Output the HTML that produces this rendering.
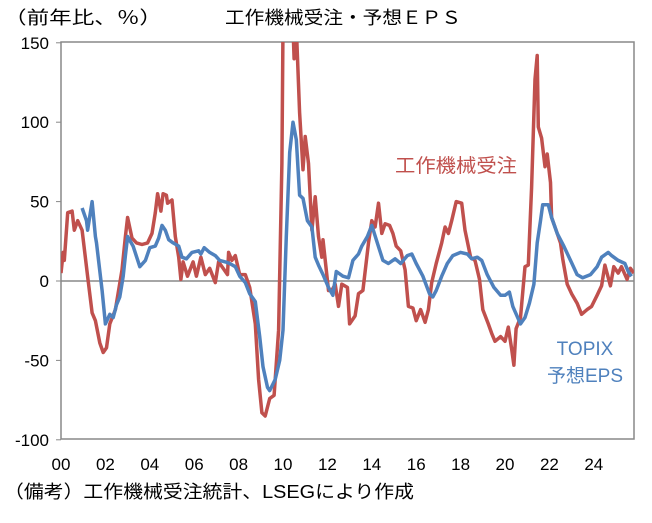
<!DOCTYPE html>
<html><head><meta charset="utf-8">
<style>
html,body{margin:0;padding:0;background:#fff;}
body{width:652px;height:518px;overflow:hidden;font-family:"Liberation Sans","Noto Sans CJK JP",sans-serif;}
svg text{font-family:"Liberation Sans","Noto Sans CJK JP",sans-serif;}
</style></head>
<body>
<svg id="chart" width="652" height="518" viewBox="0 0 652 518" xmlns="http://www.w3.org/2000/svg">
<defs><clipPath id="plotclip"><rect x="61" y="42" width="573" height="397"/></clipPath></defs>
<text x="225" y="24" font-size="18" textLength="236" lengthAdjust="spacingAndGlyphs" fill="#000">工作機械受注・予想ＥＰＳ</text>
<text x="4" y="24" font-size="18" textLength="158" lengthAdjust="spacingAndGlyphs" fill="#000">（前年比、％）</text>
<rect x="61" y="42" width="573" height="397" fill="none" stroke="#888" stroke-width="1.5"/>
<g id="yticks"></g>
<g id="xticks"></g>
<line id="zero" stroke="#888" stroke-width="1.5"/>
<g clip-path="url(#plotclip)">
<path id="red" fill="none" stroke="#c0504d" stroke-width="3.5" stroke-linejoin="round"/>
<path id="blue" fill="none" stroke="#4f81bd" stroke-width="3.5" stroke-linejoin="round"/>
</g>
<text x="395" y="172" font-size="19" textLength="122" lengthAdjust="spacingAndGlyphs" fill="#c0504d">工作機械受注</text>
<text x="585" y="355" font-size="19" text-anchor="middle" fill="#4f81bd">TOPIX</text>
<text x="585" y="382" font-size="19" text-anchor="middle" fill="#4f81bd">予想EPS</text>
<text x="4" y="498" font-size="18" textLength="410" lengthAdjust="spacingAndGlyphs" fill="#000">（備考）工作機械受注統計、LSEGにより作成</text>
</svg>
<script>
const yTicks=[150,100,50,0,-50,-100];
const xTickYears=[0,2,4,6,8,10,12,14,16,18,20,22,24];
const xTickLabels=["00","02","04","06","08","10","12","14","16","18","20","22","24"];
const redX=[0,0.1,0.15,0.3,0.5,0.6,0.75,0.95,1.2,1.4,1.55,1.75,1.9,2.05,2.2,2.45,2.75,2.9,3.0,3.2,3.4,3.65,3.9,4.1,4.25,4.35,4.5,4.6,4.75,4.8,5.0,5.15,5.3,5.4,5.5,5.7,5.95,6.1,6.3,6.5,6.7,6.95,7.1,7.3,7.5,7.55,7.7,7.85,8.05,8.3,8.5,8.75,8.9,9.05,9.2,9.4,9.6,9.8,9.95,10.0,10.2,10.45,10.5,10.6,10.75,10.9,11.0,11.15,11.3,11.45,11.6,11.75,11.8,12.05,12.2,12.35,12.5,12.65,12.9,13.0,13.25,13.4,13.6,13.85,14.0,14.15,14.3,14.45,14.6,14.8,14.95,15.1,15.3,15.5,15.65,15.85,16.0,16.2,16.4,16.55,16.7,16.9,17.15,17.3,17.45,17.6,17.8,18.05,18.2,18.45,18.65,18.85,19.0,19.25,19.4,19.55,19.8,20.0,20.15,20.3,20.4,20.5,20.7,20.9,21.05,21.2,21.35,21.45,21.5,21.65,21.8,21.9,22.05,22.1,22.3,22.5,22.6,22.8,23.0,23.25,23.45,23.7,23.9,24.15,24.35,24.5,24.75,24.9,25.1,25.25,25.5,25.65,25.8];
const redY=[5,18,13,43,44,32,38,32,3,-20,-25,-39,-45,-42,-27,-18,7,28,40,27,24,23,24,30,43,55,44,55,54,49,51,28,15,1,12,3,12,3,15,4,8,-1,12,8,4,18,13,16,4,4,-4,-27,-62,-83,-85,-74,-72,-31,74,160,190,160,140,160,106,70,91,74,32,53,28,15,26,-6,-6,-2,-16,-2,-4,-27,-22,-8,-6,24,38,34,49,30,36,35,30,22,19,7,-16,-17,-25,-18,-26,-18,-1,11,24,34,30,38,50,49,32,15,13,1,-18,-27,-33,-38,-35,-38,-29,-43,-53,-30,-23,9,10,59,127,142,97,90,72,80,62,40,32,24,14,-2,-8,-14,-21,-18,-16,-9,-3,10,-3,9,5,9,1,8,5];
const blueX=[0.95,1.15,1.2,1.4,1.55,1.6,1.85,2.0,2.2,2.35,2.5,2.65,2.8,2.9,3.0,3.25,3.55,3.8,4.0,4.25,4.4,4.55,4.7,4.85,5.05,5.3,5.45,5.65,5.9,6.2,6.3,6.45,6.7,6.95,7.15,7.4,7.6,7.85,8.05,8.3,8.5,8.75,8.95,9.1,9.3,9.4,9.65,9.85,10.0,10.15,10.3,10.45,10.6,10.75,10.9,11.1,11.3,11.45,11.6,11.8,12.05,12.25,12.4,12.7,12.95,13.15,13.4,13.55,13.8,14.0,14.25,14.5,14.75,15.05,15.3,15.6,15.8,16.0,16.3,16.6,16.75,16.9,17.15,17.4,17.65,18.0,18.3,18.5,18.75,18.95,19.2,19.5,19.8,20.0,20.2,20.35,20.7,20.9,21.1,21.3,21.45,21.6,21.7,21.95,22.1,22.35,22.65,22.95,23.25,23.5,23.85,24.15,24.35,24.65,24.8,25.1,25.4,25.55,25.7];
const blueY=[46,38,32,50,28,24,-6,-27,-21,-23,-15,-10,3,16,28,22,9,13,21,22,27,35,32,26,24,22,15,14,18,19,17,21,18,16,13,12,11,9,3,-1,-8,-13,-35,-54,-67,-69,-62,-50,-31,28,81,100,89,54,52,38,34,15,10,4,-4,-9,6,3,2,13,17,22,28,35,24,13,11,14,11,16,17,11,3,-8,-10,-6,3,11,16,18,17,14,15,13,4,-4,-9,-9,-7,-16,-27,-23,-14,-2,24,38,48,48,40,30,22,13,4,2,4,9,15,18,16,13,11,6,3];

const X=t=>61+22.2*t;
const Y=v=>281-v*1.588;
const NS="http://www.w3.org/2000/svg";
const yt=document.getElementById('yticks');
yTicks.forEach(v=>{
  const t=document.createElementNS(NS,'text');
  
  
  t.setAttribute('x',49);t.setAttribute('y',Y(v)+6);
  t.setAttribute('font-size','17');t.setAttribute('text-anchor','end');
  t.textContent=v;yt.appendChild(t);
  const l=document.createElementNS(NS,'line');
  
  
  l.setAttribute('x1',56);l.setAttribute('x2',61);l.setAttribute('y1',Y(v));l.setAttribute('y2',Y(v));
  l.setAttribute('stroke','#888');yt.appendChild(l);
});
const xt=document.getElementById('xticks');
xTickYears.forEach((yr,i)=>{
  const t=document.createElementNS(NS,'text');
  
  
  t.setAttribute('x',X(yr));t.setAttribute('y',470);
  t.setAttribute('font-size','17');t.setAttribute('text-anchor','middle');
  t.textContent=xTickLabels[i];xt.appendChild(t);
});
const z=document.getElementById('zero');
z.setAttribute('x1',61);z.setAttribute('x2',634);z.setAttribute('y1',Y(0));z.setAttribute('y2',Y(0));
const mk=(xs,ys)=>xs.map((t,i)=>(i?'L':'M')+X(t).toFixed(1)+' '+Y(ys[i]).toFixed(1)).join(' ');
document.getElementById('red').setAttribute('d',mk(redX,redY));
document.getElementById('blue').setAttribute('d',mk(blueX,blueY));
</script>
</body></html>
